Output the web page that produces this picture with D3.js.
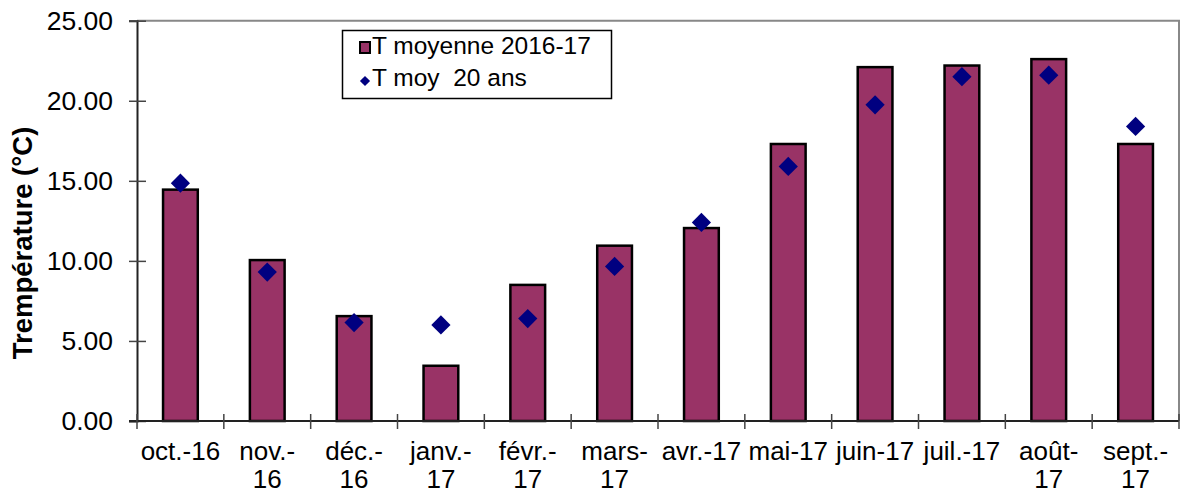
<!DOCTYPE html>
<html>
<head>
<meta charset="utf-8">
<script src="https://cdn.jsdelivr.net/npm/d3@7"></script>
<style>
  body { margin: 0; background: #fff; }
  svg { font-family: "Liberation Sans", Arial, sans-serif; }
</style>
</head>
<body>
<svg id="chart" width="1181" height="494"></svg>
<script>
// Data
var months = ["oct.-16", "nov.-16", "déc.-16", "janv.-17", "févr.-17", "mars-17",
              "avr.-17", "mai-17", "juin-17", "juil.-17", "août-17", "sept.-17"];
// how the labels wrap under the axis
var monthLabels = [["oct.-16"], ["nov.-", "16"], ["déc.-", "16"], ["janv.-", "17"],
                   ["févr.-", "17"], ["mars-", "17"], ["avr.-17"], ["mai-17"],
                   ["juin-17"], ["juil.-17"], ["août-", "17"], ["sept.-", "17"]];
var tMoyenne = [14.45, 10.05, 6.55, 3.45, 8.5, 10.95, 12.05, 17.3, 22.1, 22.2, 22.6, 17.3];
var tMoy20 = [14.85, 9.3, 6.15, 6.0, 6.4, 9.65, 12.4, 15.9, 19.75, 21.5, 21.6, 18.4];
var yTicks = [0, 5, 10, 15, 20, 25];

var seriesNames = ["T moyenne 2016-17", "T moy  20 ans"];

var barColor = "#993366";
var dotColor = "#000080";

var svg = d3.select("#chart");

// plot area (don't use "top" as a global name, it's window.top)
var plotLeft = 137, plotRight = 1179, plotTop = 20.7, plotBottom = 421;

var x = d3.scaleBand()
  .domain(months)
  .range([plotLeft, plotRight])
  .paddingInner(0.6)
  .paddingOuter(0.3);

var y = d3.scaleLinear()
  .domain([0, 25])
  .range([plotBottom, plotTop]);

// plot frame (top and right in grey)
svg.append("path")
  .attr("d", "M" + plotLeft + "," + plotTop + "H" + plotRight + "V" + plotBottom)
  .attr("fill", "none")
  .attr("stroke", "#888")
  .attr("stroke-width", 2);

// bars
svg.append("g").selectAll("rect")
  .data(tMoyenne)
  .enter().append("rect")
    .attr("x", function(d, i) { return x(months[i]); })
    .attr("y", function(d) { return y(d); })
    .attr("width", x.bandwidth())
    .attr("height", function(d) { return y(0) - y(d); })
    .attr("fill", barColor)
    .attr("stroke", "#000")
    .attr("stroke-width", 2.5);

// y axis
var yAxis = svg.append("g")
  .attr("transform", "translate(" + plotLeft + ",0)")
  .call(d3.axisLeft(y).tickValues(yTicks).tickFormat(d3.format(".2f")).tickSize(8).tickPadding(16));
yAxis.select(".domain").attr("stroke", "#222").attr("stroke-width", 2);
yAxis.selectAll(".tick line").attr("x1", 9).attr("stroke", "#444").attr("stroke-width", 1.5);
yAxis.selectAll(".tick text")
  .attr("font-size", "26.5px")
  .attr("font-family", "'Liberation Sans', Arial, sans-serif")
  .attr("fill", "#000");

// x axis
var step = x.step();
var xAxis = svg.append("g");
xAxis.append("line")
  .attr("x1", plotLeft - 8).attr("x2", plotRight)
  .attr("y1", plotBottom).attr("y2", plotBottom)
  .attr("stroke", "#222").attr("stroke-width", 2);
xAxis.selectAll(".xtick")
  .data(d3.range(months.length + 1))
  .enter().append("line")
    .attr("class", "xtick")
    .attr("x1", function(i) { return plotLeft + i * step; })
    .attr("x2", function(i) { return plotLeft + i * step; })
    .attr("y1", plotBottom - 7).attr("y2", plotBottom + 8)
    .attr("stroke", "#444").attr("stroke-width", 1.5);

var labels = xAxis.selectAll(".xlabel")
  .data(monthLabels)
  .enter().append("text")
    .attr("class", "xlabel")
    .attr("text-anchor", "middle")
    .attr("font-size", "26px")
    .attr("fill", "#000");
labels.selectAll("tspan")
  .data(function(d, i) { return d.map(function(t) { return {t: t, i: i}; }); })
  .enter().append("tspan")
    .attr("x", function(d) { return x(months[d.i]) + x.bandwidth() / 2; })
    .attr("y", function(d, j) { return plotBottom + 39 + j * 28; })
    .text(function(d) { return d.t; });

// 20 year average markers
var diamond = d3.symbol().type(d3.symbolSquare).size(185);
svg.append("g").selectAll("path")
  .data(tMoy20)
  .enter().append("path")
    .attr("d", diamond)
    .attr("transform", function(d, i) {
      return "translate(" + (x(months[i]) + x.bandwidth() / 2) + "," + y(d) + ") rotate(45)";
    })
    .attr("fill", dotColor);

// y title
svg.append("text")
  .attr("transform", "translate(32,243) rotate(-90)")
  .attr("text-anchor", "middle")
  .attr("font-size", "27.5px")
  .attr("font-weight", "bold")
  .text("Trempérature (°C)");

// legend
var legend = svg.append("g");
legend.append("rect")
  .attr("x", 342.5).attr("y", 30.5)
  .attr("width", 269).attr("height", 68)
  .attr("fill", "#fff")
  .attr("stroke", "#000")
  .attr("stroke-width", 1.5);
legend.append("rect")
  .attr("x", 360).attr("y", 42)
  .attr("width", 10).attr("height", 11)
  .attr("fill", barColor)
  .attr("stroke", "#000")
  .attr("stroke-width", 2);
legend.append("path")
  .attr("d", d3.symbol().type(d3.symbolSquare).size(52))
  .attr("transform", "translate(365,81) rotate(45)")
  .attr("fill", dotColor);
legend.selectAll(".ltext")
  .data(seriesNames)
  .enter().append("text")
    .attr("class", "ltext")
    .attr("x", 372)
    .attr("y", function(d, i) { return 54 + i * 32; })
    .attr("font-size", "24.5px")
    .attr("xml:space", "preserve")
    .style("white-space", "pre")
    .text(function(d) { return d; });
</script>
</body>
</html>
